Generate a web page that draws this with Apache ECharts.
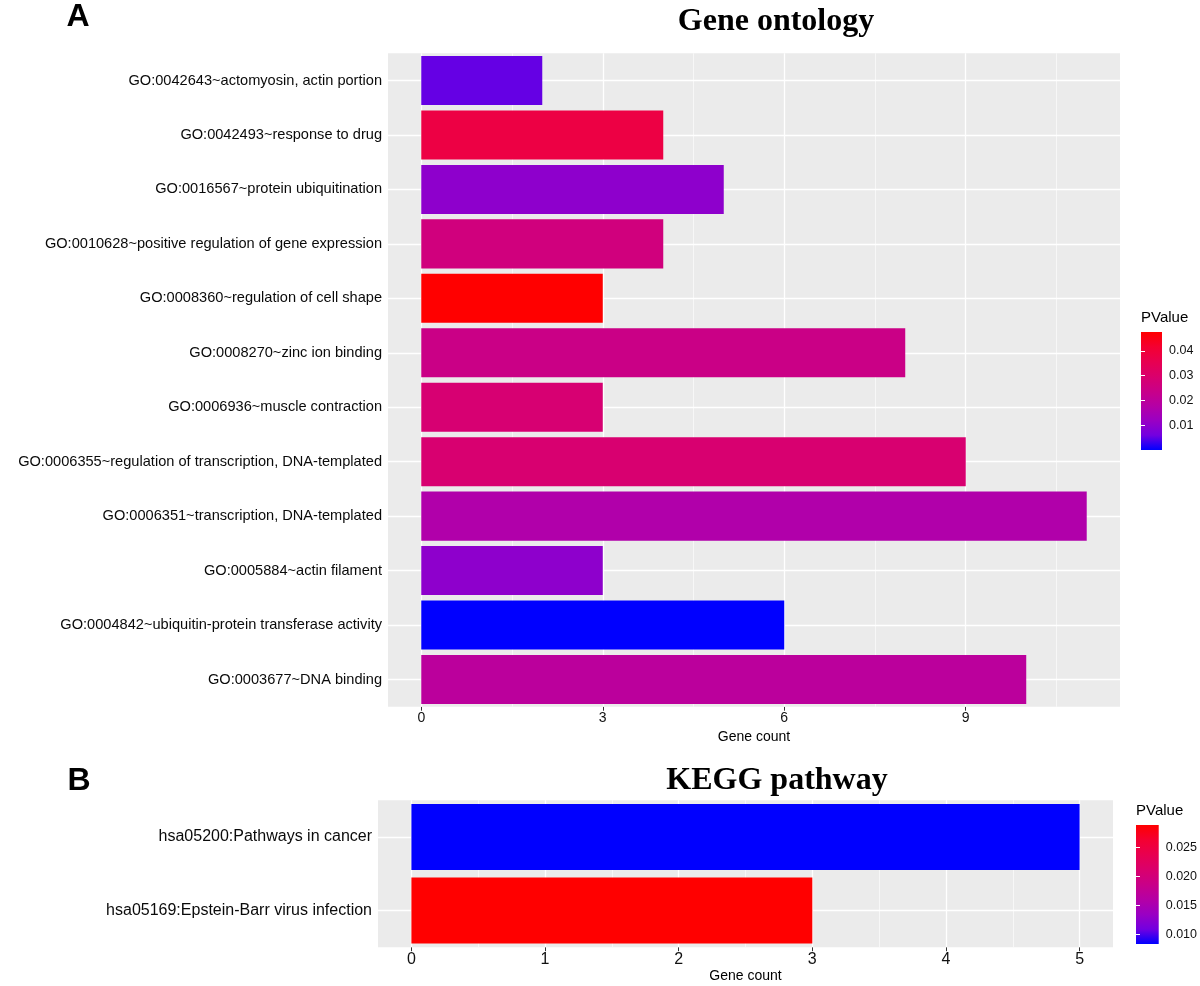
<!DOCTYPE html>
<html>
<head>
<meta charset="utf-8">
<script src="https://cdn.jsdelivr.net/npm/echarts@6/dist/echarts.min.js"></script>
<style>
html,body{margin:0;padding:0;background:#fff;}
#chart{width:1200px;height:986px;}
</style>
</head>
<body>
<div id="chart"></div>
<script>
// ---- Data ----
const goTerms = [
  'GO:0042643~actomyosin, actin portion',
  'GO:0042493~response to drug',
  'GO:0016567~protein ubiquitination',
  'GO:0010628~positive regulation of gene expression',
  'GO:0008360~regulation of cell shape',
  'GO:0008270~zinc ion binding',
  'GO:0006936~muscle contraction',
  'GO:0006355~regulation of transcription, DNA-templated',
  'GO:0006351~transcription, DNA-templated',
  'GO:0005884~actin filament',
  'GO:0004842~ubiquitin-protein transferase activity',
  'GO:0003677~DNA binding'
];
const goCounts = [2, 4, 5, 4, 3, 8, 3, 9, 11, 3, 6, 10];
const goPValues = [0.0053, 0.0381, 0.0101, 0.0262, 0.0476, 0.0243, 0.0286, 0.0290, 0.0170, 0.0101, 0.0001, 0.0198];
const goPRange = [0.0001, 0.0476];
const goXRange = [-0.55, 11.55];
const goXTicks = [0, 3, 6, 9];
const goXMinor = [1.5, 4.5, 7.5, 10.5];
const goLegendTicks = [0.01, 0.02, 0.03, 0.04];

const keggTerms = [
  'hsa05200:Pathways in cancer',
  'hsa05169:Epstein-Barr virus infection'
];
const keggCounts = [5, 3];
const keggPValues = [0.0083, 0.0289];
const keggPRange = [0.0083, 0.0289];
const keggXRange = [-0.25, 5.25];
const keggXTicks = [0, 1, 2, 3, 4, 5];
const keggXMinor = [0.5, 1.5, 2.5, 3.5, 4.5];
const keggLegendTicks = [0.010, 0.015, 0.020, 0.025];

// ---- Styling ----
const gradientStops = ['#0000FF', '#7300E0', '#9A00C3', '#B500A5', '#C90088', '#DA006C', '#E80050', '#F40031', '#FF0000'];
const SANS = "'Liberation Sans', Arial, sans-serif";
const SERIF = "'Liberation Serif', 'Times New Roman', serif";
const PANEL = '#EBEBEB';

function legendGradient() {
  return {
    type: 'linear', x: 0, y: 1, x2: 0, y2: 0,
    colorStops: gradientStops.map((c, i) => ({ offset: i / (gradientStops.length - 1), color: c }))
  };
}

function gridLines(xTicks, xMinor, cats) {
  const d = [];
  xMinor.forEach(v => d.push({ xAxis: v, lineStyle: { color: '#fff', width: 0.6, type: 'solid' } }));
  xTicks.forEach(v => d.push({ xAxis: v, lineStyle: { color: '#fff', width: 1.3, type: 'solid' } }));
  cats.forEach(c => d.push({ yAxis: c, lineStyle: { color: '#fff', width: 1.3, type: 'solid' } }));
  return d;
}

function onlyTicks(list, digits) {
  return function (v) {
    for (const t of list) { if (Math.abs(v - t) < 1e-9) return digits == null ? String(t) : t.toFixed(digits); }
    return '';
  };
}

const chart = echarts.init(document.getElementById('chart'), null, { renderer: 'canvas' });

const option = {
  animation: false,
  backgroundColor: '#fff',
  graphic: [
    { type: 'text', x: 78, y: 17, style: { text: 'A', font: 'bold 32px ' + SANS, fill: '#000', textAlign: 'center', textVerticalAlign: 'middle' } },
    { type: 'text', x: 79, y: 781, style: { text: 'B', font: 'bold 32px ' + SANS, fill: '#000', textAlign: 'center', textVerticalAlign: 'middle' } },
    { type: 'text', x: 776, y: 22, style: { text: 'Gene ontology', font: 'bold 32px ' + SERIF, fill: '#000', textAlign: 'center', textVerticalAlign: 'middle' } },
    { type: 'text', x: 777, y: 781, style: { text: 'KEGG pathway', font: 'bold 32px ' + SERIF, fill: '#000', textAlign: 'center', textVerticalAlign: 'middle' } },
    { type: 'text', x: 1141, y: 318, style: { text: 'PValue', font: '15px ' + SANS, fill: '#000', textAlign: 'left', textVerticalAlign: 'middle' } },
    { type: 'text', x: 1136, y: 811, style: { text: 'PValue', font: '15px ' + SANS, fill: '#000', textAlign: 'left', textVerticalAlign: 'middle' } }
  ],
  grid: [
    { left: 388, top: 53.3, width: 732, height: 653.4, show: true, backgroundColor: PANEL, borderWidth: 0 },
    { left: 378, top: 800.2, width: 735, height: 147, show: true, backgroundColor: PANEL, borderWidth: 0 },
    { left: 1141, top: 332, width: 21, height: 118, show: true, backgroundColor: legendGradient(), borderWidth: 0 },
    { left: 1136, top: 825, width: 23, height: 119, show: true, backgroundColor: legendGradient(), borderWidth: 0 }
  ],
  xAxis: [
    {
      type: 'value', gridIndex: 0, min: goXRange[0], max: goXRange[1], splitNumber: 4,
      axisLine: { show: false },
      axisTick: { show: true, length: 4, lineStyle: { color: '#333', width: 1 }, customValues: goXTicks },
      axisLabel: { show: true, margin: 4, fontSize: 14, color: '#111', fontFamily: SANS, customValues: goXTicks, formatter: onlyTicks(goXTicks) },
      splitLine: { show: false },
      name: 'Gene count', nameLocation: 'middle', nameGap: 23,
      nameTextStyle: { fontSize: 14, color: '#000', fontFamily: SANS }
    },
    {
      type: 'value', gridIndex: 1, min: keggXRange[0], max: keggXRange[1], splitNumber: 5,
      axisLine: { show: false },
      axisTick: { show: true, length: 4, lineStyle: { color: '#333', width: 1 }, customValues: keggXTicks },
      axisLabel: { show: true, margin: 4, fontSize: 16, color: '#111', fontFamily: SANS, customValues: keggXTicks, formatter: onlyTicks(keggXTicks) },
      splitLine: { show: false },
      name: 'Gene count', nameLocation: 'middle', nameGap: 22,
      nameTextStyle: { fontSize: 14, color: '#000', fontFamily: SANS }
    },
    { type: 'value', gridIndex: 2, show: false, min: 0, max: 1 },
    { type: 'value', gridIndex: 3, show: false, min: 0, max: 1 }
  ],
  yAxis: [
    {
      type: 'category', gridIndex: 0, data: goTerms, inverse: true,
      axisLine: { show: false },
      axisTick: { show: true, length: 4, alignWithLabel: true, lineStyle: { color: '#333', width: 1 } },
      axisLabel: { margin: 6, fontSize: 14.6, color: '#0a0a0a', fontFamily: SANS },
      splitLine: { show: false }
    },
    {
      type: 'category', gridIndex: 1, data: keggTerms, inverse: true,
      axisLine: { show: false },
      axisTick: { show: true, length: 4, alignWithLabel: true, lineStyle: { color: '#333', width: 1 } },
      axisLabel: { margin: 6, fontSize: 16, color: '#0a0a0a', fontFamily: SANS },
      splitLine: { show: false }
    },
    {
      type: 'value', gridIndex: 2, min: goPRange[0], max: goPRange[1], position: 'right',
      axisLine: { show: false },
      axisTick: { show: true, inside: true, length: 4, lineStyle: { color: '#fff', width: 1 }, customValues: goLegendTicks },
      axisLabel: { margin: 7, fontSize: 12.5, color: '#111', fontFamily: SANS, customValues: goLegendTicks, formatter: onlyTicks(goLegendTicks, 2) },
      splitLine: { show: false }
    },
    {
      type: 'value', gridIndex: 3, min: keggPRange[0], max: keggPRange[1], position: 'right',
      axisLine: { show: false },
      axisTick: { show: true, inside: true, length: 4, lineStyle: { color: '#fff', width: 1 }, customValues: keggLegendTicks },
      axisLabel: { margin: 7, fontSize: 12.5, color: '#111', fontFamily: SANS, customValues: keggLegendTicks, formatter: onlyTicks(keggLegendTicks, 3) },
      splitLine: { show: false }
    },
    {
      type: 'value', gridIndex: 2, min: goPRange[0], max: goPRange[1], position: 'left',
      axisLine: { show: false }, axisLabel: { show: false },
      axisTick: { show: true, inside: true, length: 4, lineStyle: { color: '#fff', width: 1 }, customValues: goLegendTicks },
      splitLine: { show: false }
    },
    {
      type: 'value', gridIndex: 3, min: keggPRange[0], max: keggPRange[1], position: 'left',
      axisLine: { show: false }, axisLabel: { show: false },
      axisTick: { show: true, inside: true, length: 4, lineStyle: { color: '#fff', width: 1 }, customValues: keggLegendTicks },
      splitLine: { show: false }
    }
  ],
  visualMap: [
    { type: 'continuous', show: false, seriesIndex: 0, dimension: 2, min: goPRange[0], max: goPRange[1], inRange: { color: gradientStops } },
    { type: 'continuous', show: false, seriesIndex: 1, dimension: 2, min: keggPRange[0], max: keggPRange[1], inRange: { color: gradientStops } }
  ],
  series: [
    {
      type: 'bar', xAxisIndex: 0, yAxisIndex: 0, z: 3,
      barCategoryGap: '10%',
      encode: { x: 0, y: 1 },
      data: goTerms.map((t, i) => [goCounts[i], t, goPValues[i]]),
      markLine: { silent: true, z: 1, symbol: ['none', 'none'], label: { show: false }, animation: false,
        data: gridLines(goXTicks, goXMinor, goTerms) }
    },
    {
      type: 'bar', xAxisIndex: 1, yAxisIndex: 1, z: 3,
      barCategoryGap: '10%',
      encode: { x: 0, y: 1 },
      data: keggTerms.map((t, i) => [keggCounts[i], t, keggPValues[i]]),
      markLine: { silent: true, z: 1, symbol: ['none', 'none'], label: { show: false }, animation: false,
        data: gridLines(keggXTicks, keggXMinor, keggTerms) }
    }
  ]
};
chart.setOption(option);
</script>
</body>
</html>
